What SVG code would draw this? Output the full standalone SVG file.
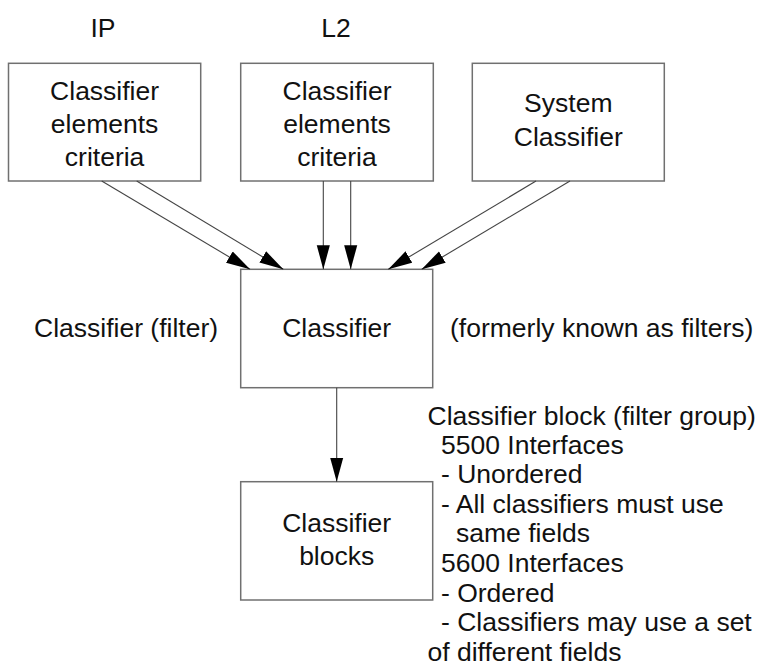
<svg xmlns="http://www.w3.org/2000/svg" width="763" height="667" viewBox="0 0 763 667">
<style>
  text { font-family: "Liberation Sans", Arial, Helvetica, sans-serif; font-size: 26.5px; fill: #111; }
  .c { text-anchor: middle; }
  .box { fill: #fff; stroke: #707070; stroke-width: 1.5; }
  .conn { stroke: #444; stroke-width: 1.1; fill: none; marker-end: url(#arr); }
</style>
<defs>
  <marker id="arr" markerUnits="userSpaceOnUse" markerWidth="24" markerHeight="14" viewBox="0 0 22 12" refX="22" refY="6" orient="auto">
    <path d="M0,0 L22,6 L0,12 Z" fill="#000"/>
  </marker>
</defs>
<rect width="763" height="667" fill="#fff"/>

<g id="label-ip"><text class="c" x="103" y="36.5">IP</text></g>
<g id="label-l2"><text class="c" x="336" y="36.5">L2</text></g>

<g id="ip-criteria">
  <rect class="box" x="8.5" y="63.3" width="192.2" height="117.7"/>
  <text class="c" x="104.6" y="100">Classifier</text>
  <text class="c" x="104.6" y="133">elements</text>
  <text class="c" x="104.6" y="165.5">criteria</text>
</g>
<g id="l2-criteria">
  <rect class="box" x="240.7" y="63.3" width="192.6" height="117.7"/>
  <text class="c" x="337" y="100">Classifier</text>
  <text class="c" x="337" y="133">elements</text>
  <text class="c" x="337" y="165.5">criteria</text>
</g>
<g id="system-classifier">
  <rect class="box" x="472.3" y="63.3" width="192" height="117.7"/>
  <text class="c" x="568.3" y="111.7">System</text>
  <text class="c" x="568.3" y="145.7">Classifier</text>
</g>

<g id="classifier">
  <rect class="box" x="240.7" y="269.3" width="192" height="118.4"/>
  <text class="c" x="336.7" y="337">Classifier</text>
</g>
<g id="label-filter"><text x="34" y="337">Classifier (filter)</text></g>
<g id="label-formerly"><text x="450" y="337">(formerly known as filters)</text></g>

<g id="classifier-blocks">
  <rect class="box" x="240.7" y="481.7" width="192" height="118.3"/>
  <text class="c" x="336.7" y="531.5">Classifier</text>
  <text class="c" x="336.7" y="565">blocks</text>
</g>

<g id="notes">
  <text x="427.5" y="425.2">Classifier block (filter group)</text>
  <text x="441" y="454">5500 Interfaces</text>
  <text x="441" y="483">- Unordered</text>
  <text x="441" y="512.6">- All classifiers must use</text>
  <text x="456" y="542.4">same fields</text>
  <text x="441" y="572">5600 Interfaces</text>
  <text x="441" y="601.5">- Ordered</text>
  <text x="441" y="631.3">- Classifiers may use a set</text>
  <text x="427.5" y="661">of different fields</text>
</g>

<g id="connectors">
  <line class="conn" x1="101.7" y1="181" x2="250" y2="269.3"/>
  <line class="conn" x1="136.7" y1="181" x2="283.3" y2="269.3"/>
  <line class="conn" x1="323.3" y1="181" x2="323.3" y2="269.3"/>
  <line class="conn" x1="350.7" y1="181" x2="350.7" y2="269.3"/>
  <line class="conn" x1="536" y1="181" x2="388.3" y2="269.3"/>
  <line class="conn" x1="570" y1="181" x2="421.7" y2="269.3"/>
  <line class="conn" x1="336.7" y1="387.7" x2="336.7" y2="481.7"/>
</g>
</svg>
